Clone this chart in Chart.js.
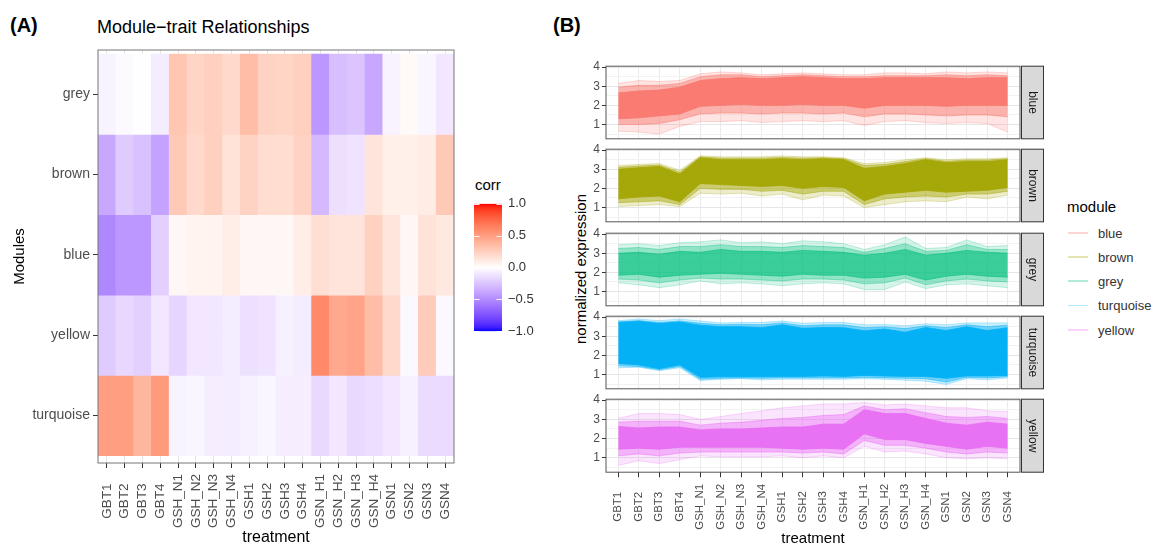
<!DOCTYPE html>
<html>
<head>
<meta charset="utf-8">
<title>Module-trait relationships and module expression</title>
<script src="https://cdn.jsdelivr.net/npm/chart.js@4/dist/chart.umd.min.js"></script>
<style>
  body { margin: 0; background: #fff; font-family: "Liberation Sans", Arial, sans-serif; }
  #page { position: relative; width: 1156px; height: 550px; overflow: hidden; }
  canvas { position: absolute; }
  .txt { position: absolute; white-space: nowrap; line-height: 1; color: #000; }
  .tag { font-size: 20px; font-weight: bold; }
  .key { position: absolute; width: 20px; height: 1.5px; }
  .item { position: absolute; font-size: 13px; line-height: 1; color: #333; }
</style>
</head>
<body>
<div id="page">
  <div class="txt tag" style="left:10px;top:15px">(A)</div>
  <div class="txt" style="left:97px;top:18px;font-size:18px">Module−trait Relationships</div>
  <div class="txt tag" style="left:553px;top:15px">(B)</div>
  <div class="txt" style="left:475px;top:177px;font-size:15px">corr</div>
  <div class="txt" style="left:580px;top:269px;font-size:15px;transform:translate(-50%,-50%) rotate(-90deg)">normalized expression</div>
  <div class="txt" style="left:1067px;top:199px;font-size:15px">module</div>
  <div id="legend"></div>

  <canvas id="heat" width="462" height="550" style="left:0;top:0"></canvas>
  <canvas id="corrbar" width="70" height="155" style="left:474px;top:190px"></canvas>
</div>

<script>
// ---- data ----
const treatments = ['GBT1', 'GBT2', 'GBT3', 'GBT4', 'GSH_N1', 'GSH_N2', 'GSH_N3', 'GSH_N4',
  'GSH1', 'GSH2', 'GSH3', 'GSH4', 'GSN_H1', 'GSN_H2', 'GSN_H3', 'GSN_H4', 'GSN1', 'GSN2', 'GSN3', 'GSN4'];

// heatmap rows, top to bottom
const heatModules = ['grey', 'brown', 'blue', 'yellow', 'turquoise'];
const corrGrey = [-0.05, -0.02, -0.01, -0.08, 0.30, 0.22, 0.25, 0.20, 0.35, 0.23, 0.22, 0.25, -0.45, -0.28, -0.25, -0.38, -0.05, 0.03, -0.04, -0.10];
const corrBrown = [-0.38, -0.22, -0.27, -0.40, 0.28, 0.20, 0.25, 0.15, 0.23, 0.18, 0.18, 0.23, -0.30, -0.13, -0.12, 0.14, 0.08, 0.08, 0.10, 0.28];
const corrBlue = [-0.52, -0.45, -0.45, -0.20, 0.04, 0.06, 0.06, 0.09, 0.04, 0.04, 0.04, 0.09, 0.17, 0.14, 0.14, 0.24, 0.13, 0.04, 0.15, 0.12];
const corrYellow = [-0.22, -0.17, -0.20, -0.10, -0.18, -0.10, -0.10, -0.08, -0.13, -0.12, -0.06, -0.08, 0.60, 0.45, 0.47, 0.35, 0.20, -0.03, 0.27, -0.03];
const corrTurquoise = [0.50, 0.50, 0.38, 0.52, -0.05, -0.04, -0.07, -0.08, -0.06, -0.04, -0.07, -0.07, -0.16, -0.10, -0.16, -0.14, -0.10, -0.06, -0.15, -0.15];
const corrTicks = [1, 0.5, 0, -0.5, -1];

// expression facets, top to bottom
const facetModules = ['blue', 'brown', 'grey', 'turquoise', 'yellow'];
const moduleColours = ['#F8766D', '#A3A500', '#00BF7D', '#00B0F6', '#E76BF3'];
const exprTicks = [0.5, 1, 1.5, 2, 2.5, 3, 3.5, 4];

// spread of the module profiles: dense core, busy middle and faint outer range
const blueCoreTop = [2.65, 2.75, 2.80, 2.95, 3.30, 3.40, 3.45, 3.40, 3.45, 3.50, 3.45, 3.40, 3.40, 3.45, 3.45, 3.45, 3.45, 3.40, 3.45, 3.45];
const blueCoreBottom = [1.30, 1.35, 1.45, 1.55, 1.95, 2.00, 2.05, 2.00, 2.00, 2.05, 2.00, 2.00, 1.85, 2.00, 2.00, 2.00, 1.95, 2.00, 2.00, 2.00];
const blueMidTop = [2.95, 3.05, 3.05, 3.15, 3.50, 3.60, 3.60, 3.50, 3.55, 3.60, 3.55, 3.50, 3.50, 3.55, 3.55, 3.55, 3.60, 3.55, 3.60, 3.55];
const blueMidBottom = [1.00, 1.00, 1.05, 1.25, 1.55, 1.60, 1.60, 1.55, 1.60, 1.60, 1.55, 1.60, 1.40, 1.55, 1.55, 1.50, 1.45, 1.50, 1.50, 1.40];
const blueOuterTop = [3.15, 3.30, 3.25, 3.30, 3.65, 3.75, 3.70, 3.60, 3.65, 3.70, 3.65, 3.60, 3.60, 3.70, 3.70, 3.65, 3.75, 3.70, 3.75, 3.70];
const blueOuterBottom = [0.65, 0.60, 0.50, 0.90, 1.15, 1.15, 1.20, 1.10, 1.15, 1.20, 1.15, 1.20, 0.95, 1.15, 1.20, 1.10, 1.05, 1.10, 1.05, 0.60];

const brownCoreTop = [3.00, 3.08, 3.15, 2.75, 3.60, 3.50, 3.50, 3.50, 3.55, 3.50, 3.55, 3.50, 3.05, 3.15, 3.30, 3.50, 3.35, 3.40, 3.40, 3.50];
const brownCoreBottom = [1.45, 1.55, 1.60, 1.30, 2.25, 2.20, 2.15, 2.10, 2.15, 2.00, 2.10, 2.05, 1.35, 1.70, 1.80, 1.90, 1.80, 1.85, 1.90, 2.05];
const brownMidTop = [3.10, 3.17, 3.22, 2.85, 3.65, 3.58, 3.58, 3.58, 3.62, 3.58, 3.60, 3.55, 3.20, 3.25, 3.40, 3.55, 3.42, 3.48, 3.48, 3.55];
const brownMidBottom = [1.25, 1.30, 1.35, 1.15, 2.00, 1.95, 1.95, 1.85, 1.90, 1.70, 1.85, 1.85, 1.15, 1.45, 1.55, 1.60, 1.55, 1.70, 1.70, 1.85];
const brownOuterTop = [3.20, 3.25, 3.30, 2.95, 3.70, 3.65, 3.65, 3.65, 3.70, 3.65, 3.65, 3.60, 3.30, 3.35, 3.50, 3.60, 3.50, 3.55, 3.55, 3.60];
const brownOuterBottom = [1.05, 1.10, 1.15, 1.05, 1.75, 1.70, 1.75, 1.60, 1.70, 1.40, 1.65, 1.60, 1.00, 1.15, 1.30, 1.35, 1.30, 1.55, 1.45, 1.65];

const greyCoreTop = [3.00, 3.05, 2.95, 3.10, 3.05, 3.20, 3.10, 3.10, 3.05, 3.15, 3.10, 3.05, 2.90, 3.00, 3.20, 2.90, 3.00, 3.15, 3.05, 3.00];
const greyCoreBottom = [1.85, 1.90, 1.75, 1.85, 1.90, 1.95, 1.90, 1.85, 1.80, 1.90, 1.85, 1.85, 1.70, 1.75, 1.90, 1.60, 1.80, 1.90, 1.80, 1.75];
const greyMidTop = [3.25, 3.30, 3.20, 3.35, 3.35, 3.45, 3.35, 3.35, 3.30, 3.40, 3.35, 3.30, 3.05, 3.25, 3.50, 3.10, 3.15, 3.45, 3.20, 3.20];
const greyMidBottom = [1.65, 1.60, 1.45, 1.60, 1.70, 1.65, 1.65, 1.60, 1.55, 1.65, 1.65, 1.60, 1.40, 1.45, 1.70, 1.35, 1.55, 1.65, 1.55, 1.50];
const greyOuterTop = [3.45, 3.50, 3.40, 3.55, 3.60, 3.70, 3.55, 3.60, 3.50, 3.65, 3.60, 3.50, 3.20, 3.45, 3.85, 3.25, 3.30, 3.70, 3.35, 3.40];
const greyOuterBottom = [1.45, 1.35, 1.20, 1.35, 1.55, 1.40, 1.45, 1.40, 1.30, 1.40, 1.45, 1.40, 1.10, 1.10, 1.50, 1.15, 1.35, 1.40, 1.30, 1.20];

const turquoiseCoreTop = [3.72, 3.78, 3.67, 3.75, 3.58, 3.50, 3.50, 3.45, 3.60, 3.42, 3.46, 3.45, 3.29, 3.38, 3.21, 3.46, 3.30, 3.50, 3.30, 3.45];
const turquoiseCoreBottom = [1.58, 1.50, 1.30, 1.50, 0.85, 0.88, 0.88, 0.88, 0.90, 0.90, 0.92, 0.90, 0.95, 0.92, 0.90, 0.90, 0.80, 0.92, 0.92, 0.95];
const turquoiseMidTop = [3.76, 3.82, 3.72, 3.80, 3.68, 3.60, 3.62, 3.60, 3.70, 3.55, 3.60, 3.60, 3.45, 3.50, 3.40, 3.55, 3.45, 3.60, 3.50, 3.58];
const turquoiseMidBottom = [1.45, 1.42, 1.25, 1.42, 0.75, 0.80, 0.82, 0.80, 0.82, 0.82, 0.82, 0.82, 0.85, 0.82, 0.80, 0.78, 0.60, 0.85, 0.82, 0.88];
const turquoiseOuterTop = [3.82, 3.90, 3.82, 3.90, 3.80, 3.70, 3.72, 3.72, 3.80, 3.68, 3.72, 3.72, 3.60, 3.62, 3.55, 3.65, 3.60, 3.70, 3.70, 3.70];
const turquoiseOuterBottom = [1.35, 1.38, 1.20, 1.35, 0.68, 0.75, 0.78, 0.72, 0.75, 0.75, 0.75, 0.75, 0.78, 0.75, 0.70, 0.65, 0.48, 0.78, 0.72, 0.82];

const yellowCoreTop = [2.63, 2.55, 2.60, 2.60, 2.45, 2.50, 2.50, 2.55, 2.60, 2.60, 2.75, 2.75, 3.50, 3.30, 3.30, 3.05, 2.80, 2.70, 2.85, 2.75];
const yellowCoreBottom = [1.45, 1.50, 1.45, 1.55, 1.55, 1.55, 1.55, 1.55, 1.50, 1.45, 1.50, 1.45, 2.25, 1.95, 1.95, 1.75, 1.60, 1.45, 1.60, 1.50];
const yellowMidTop = [2.85, 2.90, 2.90, 2.90, 2.70, 2.80, 2.85, 2.95, 3.05, 3.10, 3.20, 3.25, 3.70, 3.50, 3.55, 3.35, 3.15, 3.10, 3.15, 3.05];
const yellowMidBottom = [1.10, 1.20, 1.10, 1.25, 1.30, 1.30, 1.30, 1.30, 1.30, 1.25, 1.30, 1.20, 1.90, 1.65, 1.65, 1.50, 1.30, 1.20, 1.30, 1.25];
const yellowOuterTop = [3.05, 3.30, 3.30, 3.25, 3.00, 3.15, 3.30, 3.45, 3.60, 3.70, 3.80, 3.80, 3.88, 3.75, 3.80, 3.70, 3.60, 3.60, 3.45, 3.40];
const yellowOuterBottom = [0.60, 0.85, 0.70, 0.90, 1.10, 1.05, 1.05, 1.05, 1.10, 1.00, 1.10, 1.00, 1.60, 1.30, 1.35, 1.20, 1.00, 0.95, 1.00, 0.95];

// ---- helpers ----
Chart.defaults.font.family = '"Liberation Sans", Arial, sans-serif';
Chart.defaults.animation = false;

// blue - white - red scale, interpolated in CIE Lab like scale_fill_gradient2
function toLinear(c) { c /= 255; return c <= 0.04045 ? c / 12.92 : Math.pow((c + 0.055) / 1.055, 2.4); }
function fromLinear(c) {
  const v = c <= 0.0031308 ? 12.92 * c : 1.055 * Math.pow(c, 1 / 2.4) - 0.055;
  return Math.round(Math.min(1, Math.max(0, v)) * 255);
}
function hexToLab(hex) {
  const n = parseInt(hex.slice(1), 16);
  const r = toLinear(n >> 16), g = toLinear((n >> 8) & 255), b = toLinear(n & 255);
  const x = (0.4124 * r + 0.3576 * g + 0.1805 * b) / 0.95047;
  const y = 0.2126 * r + 0.7152 * g + 0.0722 * b;
  const z = (0.0193 * r + 0.1192 * g + 0.9505 * b) / 1.08883;
  const f = t => t > 0.008856 ? Math.cbrt(t) : 7.787 * t + 16 / 116;
  return [116 * f(y) - 16, 500 * (f(x) - f(y)), 200 * (f(y) - f(z))];
}
function labToRgb(lab) {
  const fy = (lab[0] + 16) / 116, fx = fy + lab[1] / 500, fz = fy - lab[2] / 200;
  const inv = t => t * t * t > 0.008856 ? t * t * t : (t - 16 / 116) / 7.787;
  const x = inv(fx) * 0.95047, y = inv(fy), z = inv(fz) * 1.08883;
  const r = 3.2406 * x - 1.5372 * y - 0.4986 * z;
  const g = -0.9689 * x + 1.8758 * y + 0.0415 * z;
  const b = 0.0557 * x - 0.2040 * y + 1.0570 * z;
  return 'rgb(' + fromLinear(r) + ',' + fromLinear(g) + ',' + fromLinear(b) + ')';
}
const labLow = hexToLab('#0000FF'), labMid = hexToLab('#FFFFFF'), labHigh = hexToLab('#FF0000');
function corrColour(v) {
  const t = Math.min(1, Math.abs(v));
  const end = v < 0 ? labLow : labHigh;
  return labToRgb(labMid.map((m, i) => m + (end[i] - m) * t));
}
function withAlpha(hex, a) {
  const n = parseInt(hex.slice(1), 16);
  return 'rgba(' + (n >> 16) + ',' + ((n >> 8) & 255) + ',' + (n & 255) + ',' + a + ')';
}
const minus = s => s.replace('-', '\u2212');

// box around the plotting area
const panelBorder = {
  id: 'panelBorder',
  afterDraw(chart, args, opts) {
    const { ctx, chartArea: a } = chart;
    ctx.save();
    ctx.strokeStyle = opts.color || '#333';
    ctx.lineWidth = 1;
    ctx.strokeRect(a.left, a.top, a.right - a.left, a.bottom - a.top);
    ctx.restore();
  }
};

// vertical category labels, centred on a common line under the axis
const rotLabels = {
  id: 'rotLabels',
  afterDraw(chart, args, opts) {
    if (!opts.labels) return;
    const { ctx } = chart;
    const xs = chart.scales.x;
    ctx.save();
    ctx.font = opts.font;
    ctx.fillStyle = opts.color;
    ctx.textAlign = 'center';
    ctx.textBaseline = 'middle';
    opts.labels.forEach((lab, i) => {
      ctx.save();
      ctx.translate(xs.getPixelForValue(i), opts.centerY);
      ctx.rotate(-Math.PI / 2);
      ctx.fillText(lab, 0, 0);
      ctx.restore();
    });
    ctx.restore();
  }
};

// grey facet strip on the right of each panel
const facetStrip = {
  id: 'facetStrip',
  afterDraw(chart, args, opts) {
    if (!opts.text) return;
    const { ctx, chartArea: a } = chart;
    const x0 = a.right + 1.5, w = 22;
    ctx.save();
    ctx.fillStyle = '#d9d9d9';
    ctx.fillRect(x0, a.top, w, a.bottom - a.top);
    ctx.strokeStyle = '#333';
    ctx.lineWidth = 1;
    ctx.strokeRect(x0, a.top, w, a.bottom - a.top);
    ctx.translate(x0 + w / 2, (a.top + a.bottom) / 2);
    ctx.rotate(Math.PI / 2);
    ctx.font = '12px "Liberation Sans", Arial, sans-serif';
    ctx.fillStyle = '#1a1a1a';
    ctx.textAlign = 'center';
    ctx.textBaseline = 'middle';
    ctx.fillText(opts.text, 0, 0);
    ctx.restore();
  }
};

// white break marks across the colour bar
const barTicks = {
  id: 'barTicks',
  afterDatasetsDraw(chart) {
    const { ctx, chartArea: a } = chart;
    const ys = chart.scales.y;
    const len = (a.right - a.left) / 5;
    ctx.save();
    ctx.strokeStyle = 'rgba(255,255,255,0.9)';
    ctx.lineWidth = 1;
    corrTicks.forEach(v => {
      const y = Math.round(ys.getPixelForValue(v)) + 0.5;
      ctx.beginPath();
      ctx.moveTo(a.left, y); ctx.lineTo(a.left + len, y);
      ctx.moveTo(a.right - len, y); ctx.lineTo(a.right, y);
      ctx.stroke();
    });
    ctx.restore();
  }
};

// ---- (A) heatmap ----
const heatRows = [corrGrey, corrBrown, corrBlue, corrYellow, corrTurquoise];
new Chart(document.getElementById('heat'), {
  type: 'bar',
  data: {
    labels: treatments,
    datasets: heatRows.map((row, r) => ({
      label: heatModules[r],
      data: row.map(() => [4 - r, 5 - r]),
      backgroundColor: row.map(corrColour),
      borderWidth: 0,
      barPercentage: 1,
      categoryPercentage: 1,
      grouped: false
    }))
  },
  options: {
    responsive: false,
    layout: { padding: { top: 50, right: 8, bottom: 0, left: 0 } },
    plugins: {
      legend: { display: false },
      tooltip: { enabled: false },
      panelBorder: { color: '#777' },
      rotLabels: { labels: treatments, centerY: 501, font: '13.5px "Liberation Sans", Arial, sans-serif', color: '#4d4d4d' }
    },
    scales: {
      x: {
        grid: { offset: false, color: '#e5e5e5', tickColor: '#333', tickLength: 5 },
        border: { display: false },
        ticks: { display: false },
        title: { display: true, text: 'treatment', color: '#000', font: { size: 16 }, padding: { top: 0, bottom: 3 } },
        afterFit: s => { s.height = 87; }
      },
      y: {
        min: -0.09,
        max: 5.05,
        afterBuildTicks: s => { s.ticks = [0.5, 1.5, 2.5, 3.5, 4.5].map(v => ({ value: v })); },
        ticks: { autoSkip: false, callback: v => heatModules[4 - Math.floor(v)], color: '#4d4d4d', font: { size: 14 }, padding: 3 },
        grid: { color: '#e5e5e5', tickColor: '#333', tickLength: 5 },
        border: { display: false },
        title: { display: true, text: 'Modules', color: '#000', font: { size: 15 }, padding: { top: 11, bottom: 0 } },
        afterFit: s => { s.width = 98; }
      }
    }
  },
  plugins: [panelBorder, rotLabels]
});

// ---- colour bar ----
new Chart(document.getElementById('corrbar'), {
  type: 'bar',
  data: {
    labels: ['corr'],
    datasets: [{
      data: [[-1, 1]],
      borderWidth: 0,
      barPercentage: 1,
      categoryPercentage: 1,
      backgroundColor: ctx => {
        const a = ctx.chart.chartArea;
        if (!a) return '#fff';
        const g = ctx.chart.ctx.createLinearGradient(0, a.bottom, 0, a.top);
        for (let k = 0; k <= 40; k++) g.addColorStop(k / 40, corrColour(-1 + k / 20));
        return g;
      }
    }]
  },
  options: {
    responsive: false,
    layout: { padding: { top: 10, bottom: 12, left: 0, right: 0 } },
    plugins: { legend: { display: false }, tooltip: { enabled: false } },
    scales: {
      x: { display: false },
      y: {
        position: 'right',
        min: -1,
        max: 1,
        afterBuildTicks: s => { s.ticks = corrTicks.map(v => ({ value: v })); },
        ticks: { autoSkip: false, callback: v => minus(v.toFixed(1)), color: '#333', font: { size: 13 }, padding: 6 },
        grid: { display: false, drawTicks: false },
        border: { display: false },
        afterFit: s => { s.width = 42; }
      }
    }
  },
  plugins: [barTicks]
});

// ---- (B) faceted expression profiles ----
const facetBands = [
  [blueCoreTop, blueCoreBottom, blueMidTop, blueMidBottom, blueOuterTop, blueOuterBottom],
  [brownCoreTop, brownCoreBottom, brownMidTop, brownMidBottom, brownOuterTop, brownOuterBottom],
  [greyCoreTop, greyCoreBottom, greyMidTop, greyMidBottom, greyOuterTop, greyOuterBottom],
  [turquoiseCoreTop, turquoiseCoreBottom, turquoiseMidTop, turquoiseMidBottom, turquoiseOuterTop, turquoiseOuterBottom],
  [yellowCoreTop, yellowCoreBottom, yellowMidTop, yellowMidBottom, yellowOuterTop, yellowOuterBottom]
];
// fill opacity of core, middle and outer layer for each module
const bandAlpha = [
  [0.92, 0.45, 0.2],
  [0.92, 0.45, 0.2],
  [0.6, 0.32, 0.16],
  [0.96, 0.45, 0.2],
  [0.9, 0.42, 0.18]
];
const panelTop = [65, 148.3, 231.6, 314.9, 398.2];
const panelHeight = 75;
const page = document.getElementById('page');
const points = arr => arr.map((v, k) => ({ x: k, y: v }));

facetModules.forEach((mod, i) => {
  const last = i === facetModules.length - 1;
  const cv = document.createElement('canvas');
  const top = panelTop[i] - 8;
  const height = last ? 550 - top : panelHeight + 16;
  cv.width = 466;
  cv.height = height;
  cv.style.left = '580px';
  cv.style.top = top + 'px';
  page.appendChild(cv);

  const col = moduleColours[i];
  const bands = facetBands[i];
  const alphas = bandAlpha[i];
  const datasets = [];
  for (let layer = 0; layer < 3; layer++) {
    const lineCol = withAlpha(col, Math.min(1, alphas[layer] + 0.15));
    datasets.push(
      { label: mod, data: points(bands[layer * 2]), fill: '+1', backgroundColor: withAlpha(col, alphas[layer]), borderColor: lineCol, borderWidth: 0.8 },
      { label: mod, data: points(bands[layer * 2 + 1]), fill: false, borderColor: lineCol, borderWidth: 0.8 }
    );
  }

  new Chart(cv, {
    type: 'line',
    data: { datasets },
    options: {
      responsive: false,
      elements: { point: { radius: 0 }, line: { tension: 0 } },
      layout: { padding: { top: 8, right: 26, bottom: last ? 0 : 8, left: 0 } },
      plugins: {
        legend: { display: false },
        tooltip: { enabled: false },
        panelBorder: { color: '#555' },
        facetStrip: { text: mod },
        rotLabels: last ? { labels: treatments, centerY: 507 - top, font: '11.5px "Liberation Sans", Arial, sans-serif', color: '#4d4d4d' } : {}
      },
      scales: {
        x: {
          type: 'linear',
          min: -0.6,
          max: 19.6,
          afterBuildTicks: s => { s.ticks = treatments.map((t, k) => ({ value: k })); },
          ticks: { display: false, autoSkip: false },
          grid: { color: '#ebebeb', drawTicks: last, tickColor: '#333', tickLength: 5 },
          border: { display: false },
          title: { display: last, text: 'treatment', color: '#000', font: { size: 15 }, padding: { top: 0, bottom: 1 } },
          afterFit: s => { s.height = last ? 550 - (panelTop[i] + panelHeight) : 0; }
        },
        y: {
          min: 0.25,
          max: 4.05,
          afterBuildTicks: s => { s.ticks = exprTicks.map(v => ({ value: v })); },
          ticks: { autoSkip: false, callback: v => Number.isInteger(v) ? String(v) : '', color: '#4d4d4d', font: { size: 12 }, padding: 2 },
          grid: {
            color: c => Number.isInteger(c.tick.value) ? '#e6e6e6' : '#f2f2f2',
            tickColor: c => Number.isInteger(c.tick.value) ? '#333' : 'rgba(0,0,0,0)',
            tickLength: 4
          },
          border: { display: false },
          afterFit: s => { s.width = 26; }
        }
      }
    },
    plugins: [panelBorder, facetStrip, rotLabels]
  });
});

// ---- module legend ----
const legend = document.getElementById('legend');
const legendY = [233, 257, 281, 305.5, 330];
facetModules.forEach((mod, i) => {
  const key = document.createElement('div');
  key.className = 'key';
  key.style.left = '1068px';
  key.style.top = (legendY[i] - 0.75) + 'px';
  key.style.background = withAlpha(moduleColours[i], 0.3);
  legend.appendChild(key);
  const item = document.createElement('div');
  item.className = 'item';
  item.style.left = '1098px';
  item.style.top = (legendY[i] - 6.5) + 'px';
  item.textContent = mod;
  legend.appendChild(item);
});
</script>
</body>
</html>
